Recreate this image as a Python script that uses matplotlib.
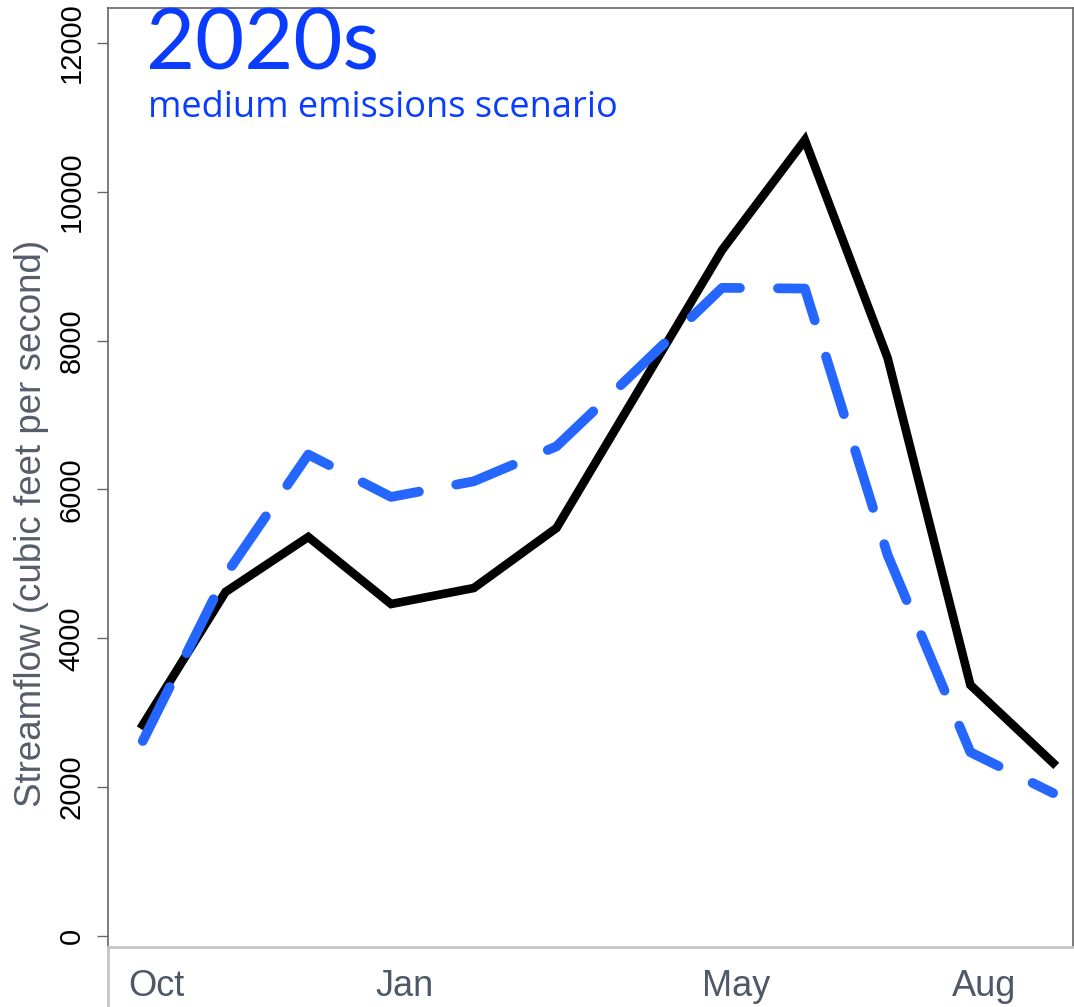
import numpy as np
import matplotlib
matplotlib.use("Agg")
from matplotlib import pyplot as plt
from matplotlib.lines import Line2D
import matplotlib.transforms as mtransforms

# mean monthly streamflow, water year Oct..Sep
months = ["Oct", "Nov", "Dec", "Jan", "Feb", "Mar", "Apr", "May", "Jun", "Jul", "Aug", "Sep"]
historical = [2835, 4623, 5362, 4461, 4676, 5483, 7350, 9218, 10696, 7767, 3373, 2325]
scenario_2020s = [2620, 4850, 6470, 5900, 6110, 6580, 7640, 8710, 8700, 5120, 2470, 1920]
tick_months = ["Oct", "Jan", "May", "Aug"]
yticks = [0, 2000, 4000, 6000, 8000, 10000, 12000]

W, H = 1074, 1007
fig = plt.figure(figsize=(W / 100, H / 100), dpi=100)
# axes box in pixel terms of the reference
left, right, top, bottom = 108, 1073, 8, 947
ax = fig.add_axes([left / W, (H - bottom) / H, (right - left) / W, (bottom - top) / H])

x = np.arange(len(months))
ax.plot(x, historical, color="black", lw=6.2, solid_joinstyle="miter", zorder=3)
ax.plot(x, scenario_2020s, color="#2566ff", lw=7, dashes=(6.2, 3.9),
        dash_capstyle="round", solid_capstyle="round", zorder=4)

ax.set_xlim(-0.42, 11.24)
ax.set_ylim(-148, 12470)

ax.set_yticks(yticks)
ax.set_yticklabels([str(v) for v in yticks], rotation=90, va="center",
                   fontsize=21, family="Liberation Sans")
ax.tick_params(axis="y", length=8, width=1, color="#666666", pad=8)

xt = [months.index(m) for m in tick_months]
ax.set_xticks(xt)
ax.set_xticklabels(tick_months, fontsize=26, family="Liberation Sans", color="#4e5866")
ax.tick_params(axis="x", length=0, pad=16)
off = mtransforms.ScaledTranslation(14 / 100, 0, fig.dpi_scale_trans)
for lab in ax.get_xticklabels():
    lab.set_transform(lab.get_transform() + off)

for s in ["top", "right", "left"]:
    ax.spines[s].set_color("#666666")
    ax.spines[s].set_linewidth(1.2)
ax.spines["bottom"].set_color("#c4c4c4")
ax.spines["bottom"].set_linewidth(2)

# left spine continues below the box in light gray
fig.add_artist(Line2D([left / W, left / W], [0, (H - bottom) / H], color="#c4c4c4", lw=2,
                      transform=fig.transFigure))

fig.text(32 / W, (H - 523) / H, "Streamflow (cubic feet per second)", rotation=90,
         ha="center", va="center", fontsize=26.5, family="Liberation Sans", color="#555d69")

fig.text(146 / W, (H - 70) / H, "2020s", fontsize=61, family="Lato",
         color="#0a3cff", va="baseline", ha="left")
fig.text(148 / W, (H - 117) / H, "medium emissions scenario", fontsize=26,
         family="Open Sans", color="#0a3cff", va="baseline", ha="left")

fig.savefig("out.png", dpi=100)
